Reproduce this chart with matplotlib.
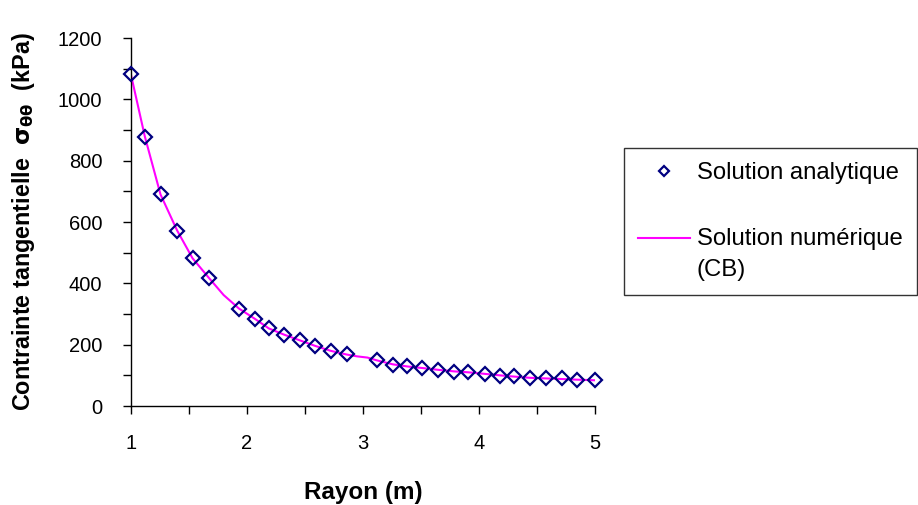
import matplotlib
matplotlib.use("Agg")
import matplotlib.pyplot as plt
from matplotlib.ticker import MultipleLocator
from matplotlib.legend_handler import HandlerLine2D

plt.rcParams['font.family'] = ['Liberation Sans', 'DejaVu Sans']

# analytical solution (markers)
rayon = [1.000, 1.121, 1.256, 1.400, 1.532, 1.673, 1.932, 2.067, 2.190,
         2.320, 2.458, 2.590, 2.723, 2.860, 3.120, 3.258, 3.384, 3.511,
         3.652, 3.787, 3.908, 4.049, 4.181, 4.305, 4.443, 4.578, 4.719,
         4.846, 5.000]
sigma_ana = [1083, 879, 690, 572, 482, 418, 318, 285, 253,
             233, 214, 196, 180, 169, 149, 135, 130, 125,
             119, 112, 112, 104, 98, 97, 90, 90, 90,
             84, 84]

# numerical solution (CB), line
rayon_num = [1.000, 1.121, 1.256, 1.400, 1.532, 1.673, 1.800, 1.932, 2.067,
             2.190, 2.320, 2.458, 2.590, 2.723, 2.860, 2.950, 3.040, 3.120,
             3.258, 3.384, 3.511, 3.652, 3.787, 3.908, 4.049, 4.181, 4.305,
             4.443, 4.578, 4.719, 4.846, 5.000]
sigma_num = [1083, 879, 690, 572, 482, 418, 362, 318, 285,
             253, 233, 214, 196, 180, 168, 162, 158, 149,
             136, 129, 124, 118, 113, 110, 105, 100, 96,
             92, 90, 88, 86, 84]


class HandlerLineTop(HandlerLine2D):
    # put the legend line level with the first line of a two-line label
    def create_artists(self, legend, orig_handle, xdescent, ydescent,
                       width, height, fontsize, trans):
        arts = super().create_artists(legend, orig_handle, xdescent, ydescent,
                                      width, height, fontsize, trans)
        for a in arts:
            a.set_ydata([y + 0.72 * fontsize for y in a.get_ydata()])
        return arts


fig = plt.figure(figsize=(9.18, 5.05), dpi=100)
ax = fig.add_axes([0.1425, 0.196, 0.5055, 0.7285])

ln, = ax.plot(rayon_num, sigma_num, color='#FF00FF', lw=1.5, zorder=2)
mk, = ax.plot(rayon, sigma_ana, ls='none', marker='D', ms=7,
              mfc='none', mec='#000080', mew=1.6, zorder=3, clip_on=False)

ax.set_xlim(1, 5)
ax.set_ylim(0, 1200)
ax.xaxis.set_major_locator(MultipleLocator(1))
ax.xaxis.set_minor_locator(MultipleLocator(0.5))
ax.yaxis.set_major_locator(MultipleLocator(200))
ax.yaxis.set_minor_locator(MultipleLocator(100))
ax.tick_params(which='both', direction='out', length=5.5, width=1.0,
               labelsize=14.5, color='black')
ax.tick_params(axis='x', pad=15)
ax.tick_params(axis='y', pad=15)

for s in ['top', 'right']:
    ax.spines[s].set_visible(False)
for s in ['left', 'bottom']:
    ax.spines[s].set_linewidth(1.0)

ax.set_xlabel('Rayon (m)', fontsize=17.5, fontweight='bold', labelpad=19.5)
ax.set_ylabel(r'Contrainte tangentielle  $\mathbf{\sigma_{\theta\theta}}$  (kPa)',
              fontsize=16.8, fontweight='bold', labelpad=15)

leg = fig.legend([mk, ln], ['Solution analytique', 'Solution numérique\n(CB)'],
                 loc='upper left', bbox_to_anchor=(0.6797, 0.707),
                 fontsize=17.2, frameon=True, fancybox=False,
                 edgecolor='black', handlelength=2.15, handletextpad=0.3,
                 labelspacing=1.85, borderpad=0.6, markerscale=0.75,
                 borderaxespad=0, handler_map={ln: HandlerLineTop()})
leg.get_frame().set_linewidth(1.0)
for t in leg.get_texts():
    t.set_linespacing(1.5)

fig.savefig('out.png', dpi=100)
